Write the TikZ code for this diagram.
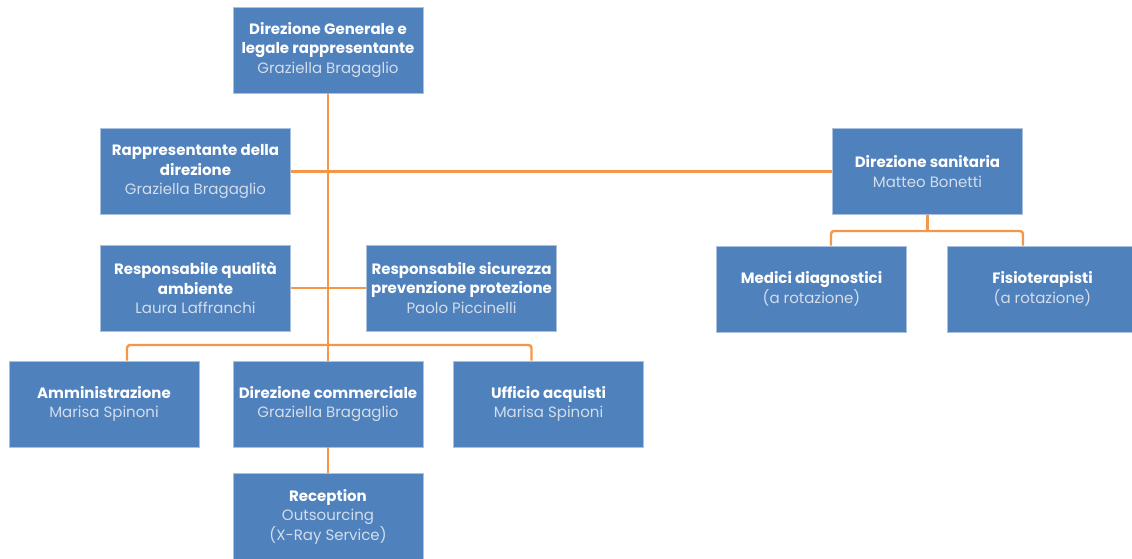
\documentclass[tikz,border=0pt]{standalone}
\usepackage{fontspec}
\setmainfont{Poppins}
\definecolor{boxblue}{HTML}{4F81BD}
\definecolor{boxedge}{HTML}{A9C1DE}
\definecolor{lineor}{HTML}{F79646}
\definecolor{nametxt}{HTML}{D3DDEB}
\tikzset{
  unit/.style={rectangle, fill=boxblue, draw=boxedge, line width=0.7pt,
    minimum width=190pt, minimum height=86pt, inner sep=1pt,
    align=center, text=white, font=\fontsize{15}{19.5}\selectfont},
  link/.style={draw=lineor, line width=2.4pt},
}
\newcommand{\hd}[1]{{\bfseries #1}}
\newcommand{\nm}[1]{{\color{nametxt}#1}}
\begin{document}
\begin{tikzpicture}[x=1pt,y=-1pt]
\useasboundingbox (0,0) rectangle (1132,559);
\clip (0,0) rectangle (1132,559);
\coordinate (bus) at (328,345);
\coordinate (sbus) at (927.5,231);
\node[unit] (top) at (328,50) {\hd{Direzione Generale e}\\\hd{legale rappresentante}\\\nm{Graziella Bragaglio}};
\node[unit] (rapp) at (195.5,171.5) {\hd{Rappresentante della}\\\hd{direzione}\\\nm{Graziella Bragaglio}};
\node[unit] (sanit) at (927.5,171.5) {\hd{Direzione sanitaria}\\\nm{Matteo Bonetti}};
\node[unit] (qual) at (195.5,288) {\hd{Responsabile qualità}\\\hd{ambiente}\\\nm{Laura Laffranchi}};
\node[unit] (sicur) at (461.5,288) {\hd{Responsabile sicurezza}\\\hd{prevenzione protezione}\\\nm{Paolo Piccinelli}};
\node[unit] (medici) at (811.5,289) {\hd{Medici diagnostici}\\\nm{(a rotazione)}};
\node[unit] (fisio) at (1042.5,289) {\hd{Fisioterapisti}\\\nm{(a rotazione)}};
\node[unit] (ammin) at (104,404) {\hd{Amministrazione}\\\nm{Marisa Spinoni}};
\node[unit] (comm) at (328,404) {\hd{Direzione commerciale}\\\nm{Graziella Bragaglio}};
\node[unit] (uffic) at (548.5,404) {\hd{Ufficio acquisti}\\\nm{Marisa Spinoni}};
\node[unit] (recep) at (328,516.5) {\hd{Reception}\\\nm{Outsourcing}\\\nm{(X-Ray Service)}};
\draw[link] (top.south) -- (comm.north);
\draw[link] (rapp.east) -- (sanit.west);
\draw[link] (qual.east) -- (sicur.west);
\draw[link, rounded corners=3pt] ([xshift=23pt]ammin.north) |- (bus) -| ([xshift=-17pt]uffic.north);
\draw[link] (sanit.south) -- (sbus);
\draw[link, rounded corners=3pt] ([xshift=19.5pt]medici.north) |- (sbus) -| ([xshift=-19.5pt]fisio.north);
\draw[link] (comm.south) -- (recep.north);
\end{tikzpicture}
\end{document}
